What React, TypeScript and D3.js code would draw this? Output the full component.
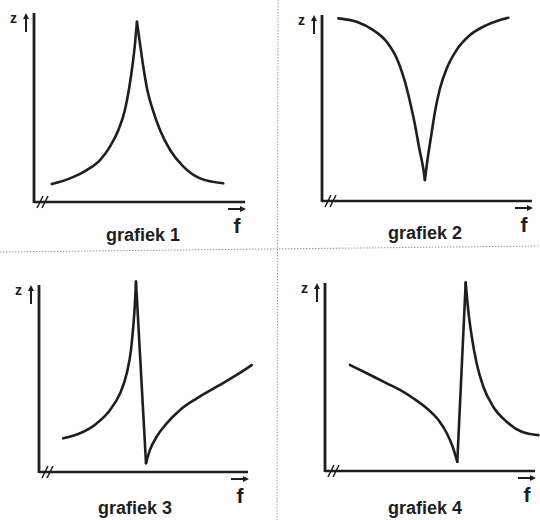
import React from "react";
import * as d3 from "d3";

type Pt = [number, number];

const panelTitles = ["grafiek 1", "grafiek 2", "grafiek 3", "grafiek 4"];
const yAxisLabel = "z";
const xAxisLabel = "f";

// values as (f, z) in axis units 0..100
const curve1Left: Pt[] = [[8.4, 9.5], [17.1, 12.5], [25.0, 16.9], [31.3, 22.2], [36.0, 29.3], [40.0, 38.1], [43.1, 48.7], [45.2, 61.0], [46.8, 73.4], [47.9, 84.0], [48.8, 95.4]];
const curve1Right: Pt[] = [[48.8, 95.4], [50.2, 84.0], [51.8, 71.6], [53.7, 59.3], [56.3, 48.7], [59.7, 38.1], [64.5, 27.5], [70.8, 18.7], [78.7, 12.5], [89.7, 9.9]];

const curve2Left: Pt[] = [[7.8, 98.2], [16.5, 96.4], [24.4, 91.9], [30.8, 85.6], [35.6, 76.7], [39.0, 66.0], [41.9, 53.4], [44.3, 40.9], [46.3, 28.3], [48.2, 17.6], [49.0, 11.3]];
const curve2Right: Pt[] = [[49.0, 11.3], [50.1, 21.1], [51.8, 33.7], [53.8, 48.0], [56.2, 60.6], [59.4, 71.3], [64.1, 81.2], [70.5, 89.2], [78.4, 94.6], [88.7, 98.5]];

const curve3Rise: Pt[] = [[11.6, 18.0], [19.6, 20.7], [27.6, 26.0], [34.0, 33.2], [38.8, 42.1], [42.0, 52.8], [44.0, 65.2], [45.1, 77.7], [45.9, 90.2], [46.4, 101.8]];
const curve3Drop: Pt[] = [[46.4, 101.8], [51.2, 4.7]];
const curve3Right: Pt[] = [[51.2, 4.7], [53.1, 11.8], [56.3, 18.9], [61.1, 26.0], [67.5, 33.2], [75.5, 39.4], [85.0, 45.6], [94.6, 51.9], [101.8, 57.2]];

const curve4Left: Pt[] = [[11.9, 56.4], [19.9, 52.0], [27.8, 47.5], [35.7, 43.1], [42.0, 38.7], [48.4, 33.4], [54.0, 27.1], [58.0, 20.1], [60.8, 12.9], [63.0, 4.9]];
const curve4Jump: Pt[] = [[63.0, 4.9], [67.0, 100.2]];
const curve4Right: Pt[] = [[67.0, 100.2], [68.2, 85.6], [69.9, 71.4], [72.2, 57.3], [75.4, 44.8], [80.1, 34.2], [86.5, 26.2], [93.7, 20.9], [101.6, 19.1]];

const panelBranches: Pt[][][] = [
  [curve1Left, curve1Right],
  [curve2Left, curve2Right],
  [curve3Rise, curve3Drop, curve3Right],
  [curve4Left, curve4Jump, curve4Right],
];

// layout (pixels)
const layout = [
  { x0: 34, y0: 202, w: 211, h: 189, lx: 143, ly: 241 },
  { x0: 322, y0: 201, w: 210, h: 186, lx: 425, ly: 239 },
  { x0: 39, y0: 472, w: 209, h: 187, lx: 135, ly: 514 },
  { x0: 325, y0: 471, w: 210, h: 188, lx: 425, ly: 514 },
];

const INK = "#1e1e1e";

function Panel({ idx }: { idx: number }) {
  const L = layout[idx];
  const xs = d3.scaleLinear().domain([0, 100]).range([L.x0, L.x0 + L.w]);
  const ys = d3.scaleLinear().domain([0, 100]).range([L.y0, L.y0 - L.h]);
  const line = d3
    .line<Pt>()
    .x((d) => xs(d[0]))
    .y((d) => ys(d[1]))
    .curve(d3.curveMonotoneX);
  const top = L.y0 - L.h;
  const xEnd = L.x0 + L.w;
  return (
    <g>
      {/* y axis */}
      <line x1={L.x0} y1={top} x2={L.x0} y2={L.y0 + 1} stroke={INK} strokeWidth={2.8} />
      {/* x axis */}
      <line x1={L.x0} y1={L.y0} x2={xEnd} y2={L.y0} stroke={INK} strokeWidth={2.4} />
      {/* axis break // */}
      <line x1={L.x0 + 3} y1={L.y0 + 6} x2={L.x0 + 9} y2={L.y0 - 6} stroke={INK} strokeWidth={1.6} />
      <line x1={L.x0 + 8} y1={L.y0 + 6} x2={L.x0 + 14} y2={L.y0 - 6} stroke={INK} strokeWidth={1.6} />
      {/* z label with up arrow */}
      <text x={L.x0 - 24} y={top + 10} fontFamily="Liberation Sans, Arial, sans-serif" fontWeight="bold" fontSize={14} fill={INK}>
        {yAxisLabel}
      </text>
      <line x1={L.x0 - 8} y1={top + 19} x2={L.x0 - 8} y2={top + 3} stroke={INK} strokeWidth={2} />
      <path d={`M${L.x0 - 11},${top + 6} L${L.x0 - 8},${top} L${L.x0 - 5},${top + 6} Z`} fill={INK} />
      {/* f label with right arrow */}
      <line x1={xEnd - 17} y1={L.y0 + 7} x2={xEnd - 4} y2={L.y0 + 7} stroke={INK} strokeWidth={2} />
      <path d={`M${xEnd - 5},${L.y0 + 4} L${xEnd + 1},${L.y0 + 7} L${xEnd - 5},${L.y0 + 10} Z`} fill={INK} />
      <text x={xEnd - 8} y={L.y0 + 31} textAnchor="middle" fontFamily="Liberation Sans, Arial, sans-serif" fontWeight="bold" fontSize={21} fill={INK}>
        {xAxisLabel}
      </text>
      {/* curves */}
      {panelBranches[idx].map((b, i) => (
        <path key={i} d={line(b) || ""} fill="none" stroke={INK} strokeWidth={2.6} strokeLinejoin="round" strokeLinecap="round" />
      ))}
      {/* title */}
      <text x={L.lx} y={L.ly} textAnchor="middle" fontFamily="Liberation Sans, Arial, sans-serif" fontWeight="bold" fontSize={18} fill={INK}>
        {panelTitles[idx]}
      </text>
    </g>
  );
}

export default function App() {
  return (
    <svg
      width={540}
      height={520}
      viewBox="0 0 540 520"
      style={{ position: "absolute", left: 0, top: 0, display: "block", background: "#fff" }}
    >
      <rect x={0} y={0} width={540} height={520} fill="#fff" />
      <line x1={278} y1={0} x2={277} y2={520} stroke="#9a9a9a" strokeWidth={1} strokeDasharray="1.5,1.5" />
      <line x1={0} y1={252} x2={540} y2={246} stroke="#9a9a9a" strokeWidth={1} strokeDasharray="1.5,1.5" />
      {[0, 1, 2, 3].map((i) => (
        <Panel key={i} idx={i} />
      ))}
    </svg>
  );
}
